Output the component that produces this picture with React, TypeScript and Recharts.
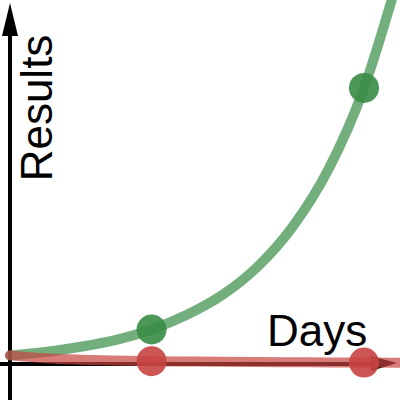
import React from 'react';
import {
  ComposedChart,
  Line,
  Scatter,
  XAxis,
  YAxis,
  ReferenceLine,
  Customized,
} from 'recharts';

// days on the x axis
const days = [0, 0.5, 1, 1.5, 2, 2.5, 3, 3.5, 4, 4.5, 5, 5.5];
// green curve
const growth = [1, 1.4, 2, 2.8, 4, 5.7, 8, 11.3, 16, 22.6, 32, 45.3];
// red curve
const decay = [1, 0.67, 0.5, 0.4, 0.33, 0.29, 0.25, 0.22, 0.2, 0.18, 0.17, 0.15];

const pointDays = [2, 5];
const growthPoints = [4, 32];
const decayPoints = [0.33, 0.17];

const xLabel = 'Days';
const yLabel = 'Results';

const GREEN = '#388c46';
const RED = '#c74440';
const FONT = '"Liberation Sans", Arial, sans-serif';

const greenData = days.map((d, i) => ({ x: d, y: growth[i] }));
const redData = days.map((d, i) => ({ x: d, y: decay[i] }));
const greenDots = pointDays.map((d, i) => ({ x: d, y: growthPoints[i] }));
const redDots = pointDays.map((d, i) => ({ x: d, y: decayPoints[i] }));

const Dot = (color: string) => (props: any) =>
  <circle cx={props.cx} cy={props.cy} r={15} fill={color} fillOpacity={0.9} />;

const YAxisArrow = (props: any) => {
  const x = props.x1;
  const top = Math.min(props.y1, props.y2) + 3;
  const bottom = Math.max(props.y1, props.y2);
  return (
    <g>
      <line x1={x} y1={bottom} x2={x} y2={top + 20} stroke="#000" strokeWidth={4} />
      <polygon points={`${x},${top} ${x - 8},${top + 33} ${x + 8},${top + 33}`} fill="#000" />
    </g>
  );
};

const XAxisArrow = (props: any) => {
  const y = props.y1;
  const left = Math.min(props.x1, props.x2);
  const right = Math.max(props.x1, props.x2) - 3;
  return (
    <g>
      <line x1={left} y1={y} x2={right - 20} y2={y} stroke="#000" strokeWidth={4} />
      <polygon points={`${right},${y - 1} ${right - 26},${y - 8} ${right - 26},${y + 7}`} fill="#000" />
    </g>
  );
};

const Labels = () => (
  <g fontFamily={FONT} fontSize={44} fill="#000">
    <text x={267} y={346}>{xLabel}</text>
    <text x={52} y={108} textAnchor="middle" transform="rotate(-90, 52, 108)">{yLabel}</text>
  </g>
);

export default function App() {
  return (
    <div style={{ position: 'absolute', left: 0, top: 0, width: 400, height: 400, background: '#fff' }}>
      <ComposedChart width={400} height={400} margin={{ top: 0, right: 0, bottom: 0, left: 0 }}>
        <XAxis type="number" dataKey="x" domain={[-0.1412, 5.5085]} allowDataOverflow hide />
        <YAxis type="number" dataKey="y" domain={[-4.174, 42.2]} allowDataOverflow hide />
        <ReferenceLine x={0} shape={YAxisArrow} />
        <ReferenceLine y={0} shape={XAxisArrow} />
        <Line
          data={greenData}
          dataKey="y"
          type="monotone"
          stroke={GREEN}
          strokeOpacity={0.7}
          strokeWidth={10}
          strokeLinecap="round"
          dot={false}
          activeDot={false}
          isAnimationActive={false}
        />
        <Line
          data={redData}
          dataKey="y"
          type="monotone"
          stroke={RED}
          strokeOpacity={0.7}
          strokeWidth={10}
          strokeLinecap="round"
          dot={false}
          activeDot={false}
          isAnimationActive={false}
        />
        <Scatter data={greenDots} dataKey="y" shape={Dot(GREEN)} activeShape={false} isAnimationActive={false} />
        <Scatter data={redDots} dataKey="y" shape={Dot(RED)} activeShape={false} isAnimationActive={false} />
        <Customized component={Labels} />
      </ComposedChart>
    </div>
  );
}
